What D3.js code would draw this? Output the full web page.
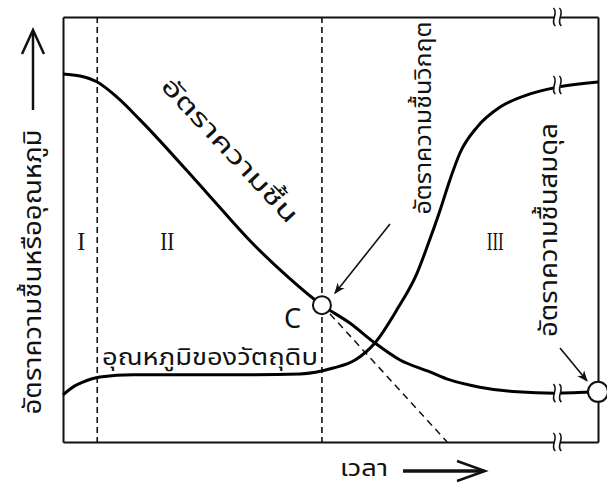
<!DOCTYPE html>
<html>
<head>
<meta charset="utf-8">
<script src="https://cdn.jsdelivr.net/npm/d3@7"></script>
<style>
  html, body { margin: 0; padding: 0; background: #fff; }
  svg { display: block; }
  .thai { font-family: "Noto Sans Thai", "Noto Sans Thai Looped", "Loma", "Garuda", "Noto Sans", "DejaVu Sans", sans-serif; fill: #111; }
  .roman { font-family: "Liberation Serif", "DejaVu Serif", serif; fill: #111; }
</style>
</head>
<body>
<svg id="chart" width="607" height="486"></svg>
<script>
// ---- data (time 0..100, value 0..100) ----
const moistureTime  = [0, 3.2, 6.4, 10.3, 14.4, 26.9, 35.0, 41.1, 48.4, 53.6, 58.3, 63.0, 68.6, 72.3, 77.9, 84.9, 92.0, 100];
const moistureValue = [86.6, 86.1, 84.7, 80.9, 75.8, 58.6, 47.3, 39.9, 32.2, 28.0, 23.3, 19.3, 16.5, 14.6, 12.9, 11.8, 11.5, 11.8];
const tempTime  = [0, 2.2, 3.7, 6.9, 13.1, 25.6, 35.0, 44.3, 50.5, 54.6, 58.3, 62.4, 66.2, 68.2, 70.5, 72.3, 74.2, 77.4, 81.7, 87.3, 92.5, 100];
const tempValue = [11.1, 13.2, 14.1, 15.3, 15.8, 15.8, 15.8, 16.0, 17.4, 19.3, 23.3, 31.1, 39.8, 46.4, 54.6, 61.6, 68.0, 74.1, 78.8, 81.9, 83.5, 84.7];
const periodBounds = [6.4, 48.4];            // dashed vertical lines
const periodLabels = ["I", "II", "III"];
const periodLabelTime = [3.4, 19.5, 80.8];
const criticalPoint = [48.4, 32.2];          // C
const tangentEnd = [71.8, 0];
const equilibriumPoint = [100, 11.8];
const breakTime = 92.4;
const breakValues = [100, 84.0, 11.5, 0];    // where the axis-break marks sit

const labels = {
  yAxis: "อัตราความชื้นหรืออุณหภูมิ",
  xAxis: "เวลา",
  moisture: "อัตราความชื้น",
  temp: "อุณหภูมิของวัตถุดิบ",
  critical: "อัตราความชื้นวิกฤต",
  equilibrium: "อัตราความชื้นสมดุล",
  c: "C"
};

const svg = d3.select("#chart");
const x = d3.scaleLinear().domain([0, 100]).range([63, 598]);
const y = d3.scaleLinear().domain([0, 100]).range([442, 17]);

// ---- frame via axes (no ticks) ----
const axisStyle = g => g.select(".domain").attr("stroke", "#111").attr("stroke-width", 2);
svg.append("g").attr("transform", `translate(0,${y(0)})`).call(d3.axisBottom(x).tickValues([]).tickSizeOuter(0)).call(axisStyle);
svg.append("g").attr("transform", `translate(0,${y(100)})`).call(d3.axisTop(x).tickValues([]).tickSizeOuter(0)).call(axisStyle);
svg.append("g").attr("transform", `translate(${x(0)},0)`).call(d3.axisLeft(y).tickValues([]).tickSizeOuter(0)).call(axisStyle);
svg.append("g").attr("transform", `translate(${x(100)},0)`).call(d3.axisRight(y).tickValues([]).tickSizeOuter(0)).call(axisStyle);

// ---- dashed period lines ----
svg.selectAll(".period").data(periodBounds).join("line")
  .attr("x1", d => x(d)).attr("x2", d => x(d))
  .attr("y1", y(100)).attr("y2", y(0))
  .attr("stroke", "#111").attr("stroke-width", 1.6).attr("stroke-dasharray", "6,4");

// tangent dashed line from C
svg.append("line")
  .attr("x1", x(criticalPoint[0])).attr("y1", y(criticalPoint[1]))
  .attr("x2", x(tangentEnd[0])).attr("y2", y(tangentEnd[1]))
  .attr("stroke", "#111").attr("stroke-width", 1.5).attr("stroke-dasharray", "7,5");

// ---- curves ----
const line = d3.line().x(d => x(d[0])).y(d => y(d[1])).curve(d3.curveMonotoneX);
const moisture = moistureTime.map((t, i) => [t, moistureValue[i]]);
const temp = tempTime.map((t, i) => [t, tempValue[i]]);
svg.append("path").attr("d", line(moisture)).attr("fill", "none").attr("stroke", "#000").attr("stroke-width", 3);
svg.append("path").attr("d", line(temp)).attr("fill", "none").attr("stroke", "#000").attr("stroke-width", 3);

// ---- break marks ----
const bx = x(breakTime);
breakValues.forEach(v => {
  const by = y(v);
  svg.append("rect").attr("x", bx - 3).attr("y", by - 8).attr("width", 6).attr("height", 16).attr("fill", "#fff");
  [-3, 3].forEach(o => {
    svg.append("path")
      .attr("d", `M${bx + o - 1},${by - 9} C${bx + o + 5},${by - 4} ${bx + o - 5},${by + 4} ${bx + o + 1},${by + 9}`)
      .attr("fill", "none").attr("stroke", "#111").attr("stroke-width", 1.6);
  });
});

// ---- points ----
svg.append("circle").attr("cx", x(criticalPoint[0])).attr("cy", y(criticalPoint[1])).attr("r", 9)
  .attr("fill", "#fff").attr("stroke", "#111").attr("stroke-width", 2);
svg.append("circle").attr("cx", x(equilibriumPoint[0])).attr("cy", y(equilibriumPoint[1])).attr("r", 10)
  .attr("fill", "#fff").attr("stroke", "#111").attr("stroke-width", 2);

// ---- arrow markers ----
const defs = svg.append("defs");
defs.append("marker").attr("id", "ah").attr("viewBox", "0 0 10 10").attr("refX", 9).attr("refY", 5)
  .attr("markerWidth", 7).attr("markerHeight", 7).attr("orient", "auto-start-reverse")
  .append("path").attr("d", "M0,1 L10,5 L0,9 L3,5 Z").attr("fill", "#111");

svg.append("line").attr("x1", 390).attr("y1", 224).attr("x2", x(criticalPoint[0]) + 13).attr("y2", y(criticalPoint[1]) - 12)
  .attr("stroke", "#111").attr("stroke-width", 1.6).attr("marker-end", "url(#ah)");
svg.append("line").attr("x1", 560).attr("y1", 348).attr("x2", x(equilibriumPoint[0]) - 11).attr("y2", y(equilibriumPoint[1]) - 11)
  .attr("stroke", "#111").attr("stroke-width", 1.6).attr("marker-end", "url(#ah)");

// y-axis arrow (open chevron)
svg.append("line").attr("x1", 33).attr("y1", 110).attr("x2", 33).attr("y2", 31).attr("stroke", "#111").attr("stroke-width", 2.5);
svg.append("path").attr("d", "M22,54 L33,30 L44,54").attr("fill", "none").attr("stroke", "#111").attr("stroke-width", 2.5);
// x-axis arrow
svg.append("line").attr("x1", 403).attr("y1", 471).attr("x2", 484).attr("y2", 471).attr("stroke", "#111").attr("stroke-width", 3.5);
svg.append("path").attr("d", "M457,461 L485,471 L457,481").attr("fill", "none").attr("stroke", "#111").attr("stroke-width", 2.5);

// ---- text ----
function thaiText(str, size, len, transform, anchor) {
  return svg.append("text").attr("class", "thai").attr("transform", transform)
    .attr("text-anchor", anchor || "middle").attr("dominant-baseline", "central")
    .attr("font-size", size).attr("textLength", len).attr("lengthAdjust", "spacingAndGlyphs").text(str);
}
thaiText(labels.yAxis, 24, 285, "translate(34,272) rotate(-90)");
thaiText(labels.xAxis, 23, 48, "translate(364,469)");
thaiText(labels.moisture, 24, 188, "translate(229,151) rotate(47)");
thaiText(labels.temp, 23, 216, "translate(210,358)");
thaiText(labels.critical, 23, 193, "translate(424,118) rotate(-90)");
thaiText(labels.equilibrium, 25, 214, "translate(549,230) rotate(-90)");
svg.append("text").attr("class", "thai").attr("x", 284).attr("y", 328).attr("font-size", 27).text(labels.c);

svg.selectAll(".roman").data(periodLabels).join("text").attr("class", "roman")
  .attr("x", (d, i) => x(periodLabelTime[i])).attr("y", 250).attr("text-anchor", "middle")
  .attr("font-size", 26).attr("textLength", (d, i) => [8, 14, 17][i]).attr("lengthAdjust", "spacingAndGlyphs")
  .text(d => d);
</script>
</body>
</html>
